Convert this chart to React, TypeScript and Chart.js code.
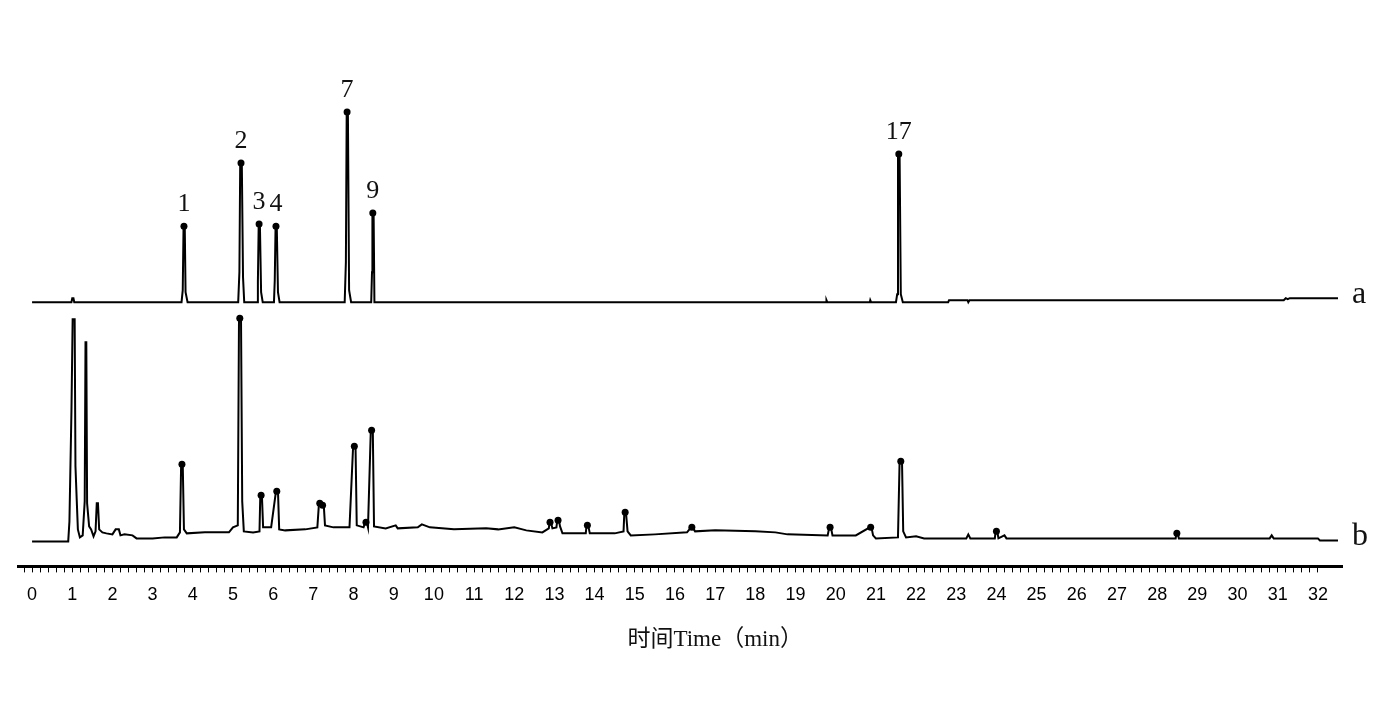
import React, { useEffect, useRef } from 'react';
import { Chart, registerables } from 'chart.js';

Chart.register(...registerables);

// ---- Trace a (standards) ----
const TIME_A = [
  0, 0.98, 1.0, 1.03, 1.05,
  3.72, 3.75, 3.77, 3.8, 3.82, 3.87,
  5.13, 5.16, 5.18, 5.22, 5.25, 5.28,
  5.6, 5.62, 5.64, 5.67, 5.7, 5.74,
  6.02, 6.04, 6.06, 6.09, 6.12, 6.16,
  7.78, 7.81, 7.83, 7.86, 7.89, 7.94,
  8.44, 8.46, 8.47, 8.5, 8.52,
  19.76, 19.77, 19.79, 20.85, 20.86, 20.88,
  21.5, 21.53, 21.55, 21.59, 21.62, 21.67,
  22.8, 22.82, 22.9, 23.28, 23.3, 23.33,
  31.15, 31.2, 31.25, 31.3, 32.5,
];
const INT_A = [
  0, 0, 4, 4, 0,
  0, 12, 76, 76, 10, 0,
  0, 30, 139, 139, 25, 0,
  0, 20, 78, 78, 10, 0,
  0, 22, 76, 76, 10, 0,
  0, 40, 190, 190, 12, 0,
  0, 30, 89, 89, 0,
  0, 2, 0, 0, 2, 0,
  0, 8, 148, 148, 8, 0,
  0, 2, 2, 2, 0, 2,
  2, 4, 3, 4, 4,
];
const MARK_A_TIME = [3.78, 5.2, 5.65, 6.07, 7.84, 8.48, 21.57];
const MARK_A_INT = [76, 139, 78, 76, 190, 89, 148];
const MARK_A_LABELS = ['1', '2', '3', '4', '7', '9', '17'];

// ---- Trace b (sample) ----
const TIME_B = [
  0, 0.9, 0.93, 0.98, 1.01, 1.06, 1.08, 1.11, 1.14, 1.19,
  1.26, 1.31, 1.33, 1.35, 1.37, 1.42, 1.47, 1.53, 1.58, 1.61,
  1.64, 1.67, 1.75, 1.85, 2.0, 2.08, 2.16, 2.2, 2.3, 2.5,
  2.6, 3.0, 3.3, 3.6, 3.68, 3.71, 3.75, 3.78, 3.85, 4.3,
  4.9, 5.0, 5.12, 5.15, 5.2, 5.23, 5.27, 5.5, 5.66, 5.68,
  5.72, 5.75, 5.95, 6.07, 6.12, 6.15, 6.3, 6.8, 7.1, 7.14,
  7.18, 7.21, 7.26, 7.29, 7.5, 7.9, 7.99, 8.05, 8.08, 8.25,
  8.29, 8.33, 8.36, 8.43, 8.48, 8.51, 8.8, 9.05, 9.1, 9.6,
  9.7, 9.9, 10.5, 11.3, 11.6, 12.0, 12.3, 12.7, 12.86, 12.88,
  12.91, 12.95, 13.05, 13.07, 13.11, 13.14, 13.2, 13.78, 13.8, 13.84,
  13.88, 14.5, 14.72, 14.74, 14.78, 14.82, 14.9, 15.5, 16.3, 16.4,
  16.44, 16.5, 17.0, 18.0, 18.5, 18.8, 19.8, 19.84, 19.88, 19.92,
  20.5, 20.85, 20.89, 20.93, 21.0, 21.55, 21.59, 21.65, 21.68, 21.75,
  22.0, 22.2, 23.25, 23.3, 23.35, 23.96, 23.98, 24.02, 24.05, 24.2,
  24.25, 28.46, 28.48, 28.51, 28.54, 30.8, 30.85, 30.9, 32.0, 32.05,
  32.5,
];
const INT_B = [
  0, 0, 20, 130, 222, 222, 75, 43, 12, 4,
  6, 40, 199, 199, 38, 15, 12, 5, 10, 38,
  38, 12, 9, 8, 7, 12, 12, 6, 7, 6,
  3, 3, 4, 4, 9, 77, 77, 12, 8, 9,
  9, 14, 16, 223, 223, 40, 10, 9, 10, 46,
  46, 14, 14, 50, 50, 12, 11, 12, 14, 38,
  38, 36, 36, 16, 14, 14, 95, 95, 16, 14,
  19, 19, 14, 111, 111, 15, 13, 16, 13, 14,
  17, 14, 12, 13, 12, 14, 11, 9, 13, 19,
  19, 13, 14, 21, 21, 15, 8, 8, 16, 16,
  8, 8, 10, 29, 29, 10, 6, 7, 9, 14,
  14, 10, 11, 10, 9, 7, 6, 14, 14, 6,
  6, 14, 14, 6, 3, 4, 80, 80, 10, 4,
  5, 3, 3, 7, 3, 3, 10, 10, 3, 6,
  3, 3, 8, 8, 3, 3, 6, 3, 3, 1,
  1,
];
const MARK_B_TIME = [3.73, 5.17, 5.7, 6.09, 7.16, 7.23, 8.02, 8.31, 8.45, 12.89, 13.09, 13.82, 14.76, 16.42, 19.86, 20.87, 21.62, 24.0, 28.49];
const MARK_B_INT = [77, 223, 46, 50, 38, 36, 95, 19, 111, 19, 21, 16, 29, 14, 14, 14, 80, 10, 8];

const TRACE_NAMES = ['a', 'b'];
const OFFSET_A = 264;
const OFFSET_B = 25;
const X_TITLE = '时间Time（min）';
const X_TITLE_AT = 17; // min, where the title is centred
const X_MIN = -0.35;
const X_MAX = 32.6;
const TICK_FIRST = -0.2;
const TICK_LAST = 32;
const TICK_STEP = 0.2;

const SERIF = '"Liberation Serif", "Times New Roman", "Noto Sans CJK SC", serif';
const SANS = '"Liberation Sans", Arial, sans-serif';

export default function App() {
  const ref = useRef<HTMLCanvasElement | null>(null);

  useEffect(() => {
    const canvas = ref.current;
    if (!canvas) return;

    const toPts = (ts: number[], vs: number[], off: number) => ts.map((t, i) => ({ x: t, y: off + vs[i] }));

    const labelPlugin = {
      id: 'peakLabels',
      afterDatasetsDraw(chart: any) {
        const ctx = chart.ctx;
        ctx.save();
        ctx.fillStyle = '#111';
        ctx.font = `26px ${SERIF}`;
        ctx.textAlign = 'center';
        ctx.textBaseline = 'middle';
        const meta = chart.getDatasetMeta(2);
        meta.data.forEach((el: any, i: number) => {
          ctx.fillText(MARK_A_LABELS[i], el.x, el.y - 22);
        });
        const ys = chart.scales.y;
        const xs = chart.scales.x;
        const area = chart.chartArea;
        ctx.font = `32px ${SERIF}`;
        ctx.textAlign = 'left';
        const lastA = INT_A[INT_A.length - 1] + OFFSET_A;
        const lastB = INT_B[INT_B.length - 1] + OFFSET_B;
        ctx.fillText(TRACE_NAMES[0], area.right + 10, ys.getPixelForValue(lastA) - 4);
        ctx.fillText(TRACE_NAMES[1], area.right + 10, ys.getPixelForValue(lastB) - 4);
        // axis title
        ctx.font = `23px ${SERIF}`;
        ctx.textAlign = 'center';
        ctx.fillText(X_TITLE, xs.getPixelForValue(X_TITLE_AT), area.bottom + 74);
        ctx.restore();
      },
    };

    const chart = new Chart(canvas, {
      type: 'line',
      data: {
        datasets: [
          {
            label: 'a',
            data: toPts(TIME_A, INT_A, OFFSET_A),
            borderColor: '#000',
            borderWidth: 2,
            pointRadius: 0,
            tension: 0,
            fill: false,
          },
          {
            label: 'b',
            data: toPts(TIME_B, INT_B, OFFSET_B),
            borderColor: '#000',
            borderWidth: 2,
            pointRadius: 0,
            tension: 0,
            fill: false,
          },
          {
            label: 'markA',
            data: toPts(MARK_A_TIME, MARK_A_INT, OFFSET_A),
            showLine: false,
            pointRadius: 3.5,
            pointBackgroundColor: '#000',
            pointBorderColor: '#000',
            borderWidth: 0,
          },
          {
            label: 'markB',
            data: toPts(MARK_B_TIME, MARK_B_INT, OFFSET_B),
            showLine: false,
            pointRadius: 3.5,
            pointBackgroundColor: '#000',
            pointBorderColor: '#000',
            borderWidth: 0,
          },
        ],
      },
      options: {
        responsive: false,
        animation: false,
        devicePixelRatio: 1,
        layout: { padding: { top: 70, left: 18, right: 51, bottom: 85 } },
        plugins: { legend: { display: false }, tooltip: { enabled: false } },
        scales: {
          x: {
            type: 'linear',
            min: X_MIN,
            max: X_MAX,
            afterBuildTicks(scale: any) {
              const ticks: any[] = [];
              const n = Math.round((TICK_LAST - TICK_FIRST) / TICK_STEP);
              for (let i = 0; i <= n; i++) {
                ticks.push({ value: +(TICK_FIRST + i * TICK_STEP).toFixed(2) });
              }
              scale.ticks = ticks;
            },
            ticks: {
              autoSkip: false,
              maxRotation: 0,
              padding: 12,
              color: '#000',
              font: { family: SANS, size: 18 },
              callback(v: any) {
                const n = Number(v);
                return Math.abs(n - Math.round(n)) < 1e-6 ? String(Math.round(n)) : '';
              },
            },
            grid: {
              drawOnChartArea: false,
              drawTicks: true,
              tickLength: 6,
              tickColor: '#000',
              tickWidth: 1,
            },
            border: { display: true, color: '#000', width: 3 },
            title: { display: false },
          },
          y: {
            type: 'linear',
            display: false,
            min: 0,
            max: 496,
          },
        },
      },
      plugins: [labelPlugin],
    });

    return () => chart.destroy();
  }, []);

  return (
    <div style={{ position: 'fixed', left: 0, top: 0, width: 1393, height: 703, background: '#fff' }}>
      <canvas ref={ref} width={1393} height={703} style={{ display: 'block' }} />
    </div>
  );
}
